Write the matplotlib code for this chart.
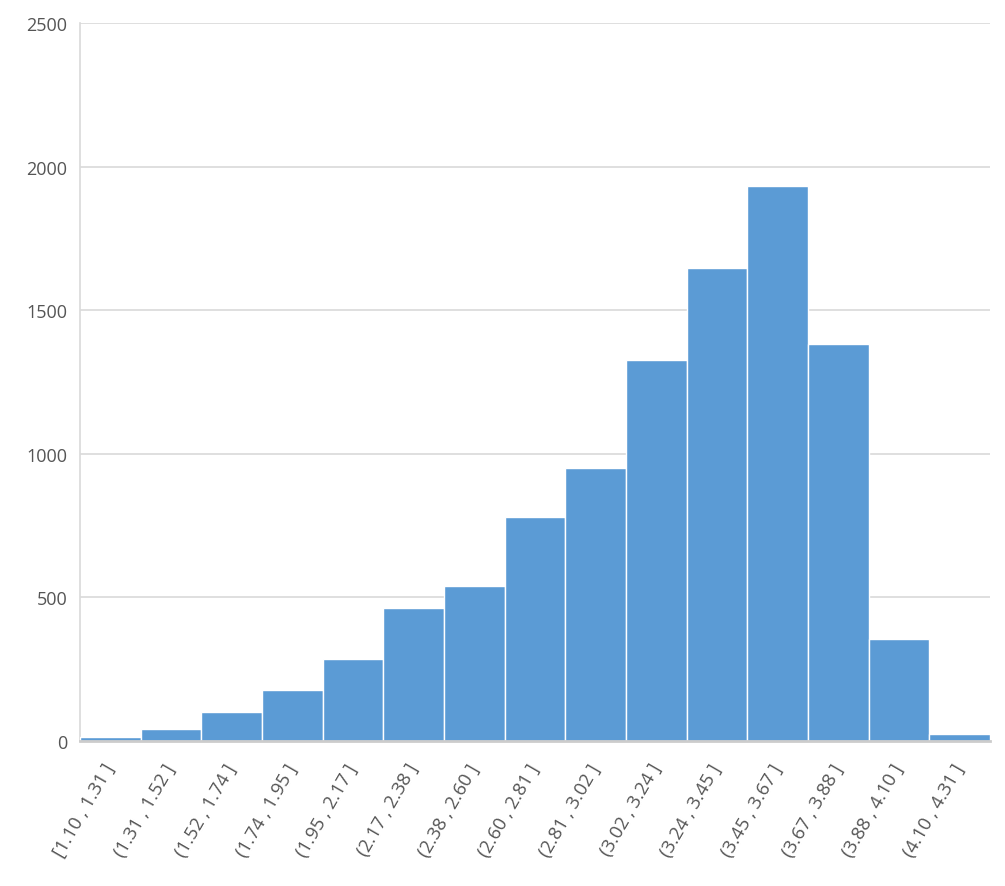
import matplotlib
matplotlib.use("Agg")
import matplotlib.pyplot as plt
import numpy as np

plt.rcParams['font.family'] = ['Open Sans', 'DejaVu Sans']

labels = ["[1.10 , 1.31 ]", "(1.31 , 1.52 ]", "(1.52 , 1.74 ]", "(1.74 , 1.95 ]",
          "(1.95 , 2.17 ]", "(2.17 , 2.38 ]", "(2.38 , 2.60 ]", "(2.60 , 2.81 ]",
          "(2.81 , 3.02 ]", "(3.02 , 3.24 ]", "(3.24 , 3.45 ]", "(3.45 , 3.67 ]",
          "(3.67 , 3.88 ]", "(3.88 , 4.10 ]", "(4.10 , 4.31 ]"]
counts = [15, 42, 101, 178, 286, 463, 540, 780, 951, 1327, 1647, 1932, 1382, 355, 24]
yticks = [0, 500, 1000, 1500, 2000, 2500]

fig = plt.figure(figsize=(10.05, 8.87), dpi=100)
ax = fig.add_axes([80/1005, 1-742/887, 910/1005, 718/887])

x = np.arange(len(counts))
ax.bar(x, counts, width=1.0, color='#5B9BD5', edgecolor='white', linewidth=1.0, zorder=3)

ax.set_xlim(-0.5, len(counts) - 0.5)
ax.set_ylim(0, 2500)
ax.set_yticks(yticks)
ax.yaxis.grid(True, color='#d9d9d9', linewidth=1.2, zorder=0)
ax.set_axisbelow(True)

for s in ['top', 'right']:
    ax.spines[s].set_visible(False)
ax.spines['left'].set_color('#d9d9d9')
ax.spines['left'].set_linewidth(1.2)
ax.spines['bottom'].set_color('#cccccc')
ax.spines['bottom'].set_linewidth(2)
ax.spines['bottom'].set_zorder(4)

ax.tick_params(axis='both', length=0, colors='#555555')
ax.tick_params(axis='y', pad=9, labelsize=13)
ax.set_xticks(x)
ax.set_xticklabels(labels, rotation=60, ha='right', va='center', rotation_mode='anchor')
ax.tick_params(axis='x', pad=17, labelsize=13.3)

fig.savefig("out.png", dpi=100)
